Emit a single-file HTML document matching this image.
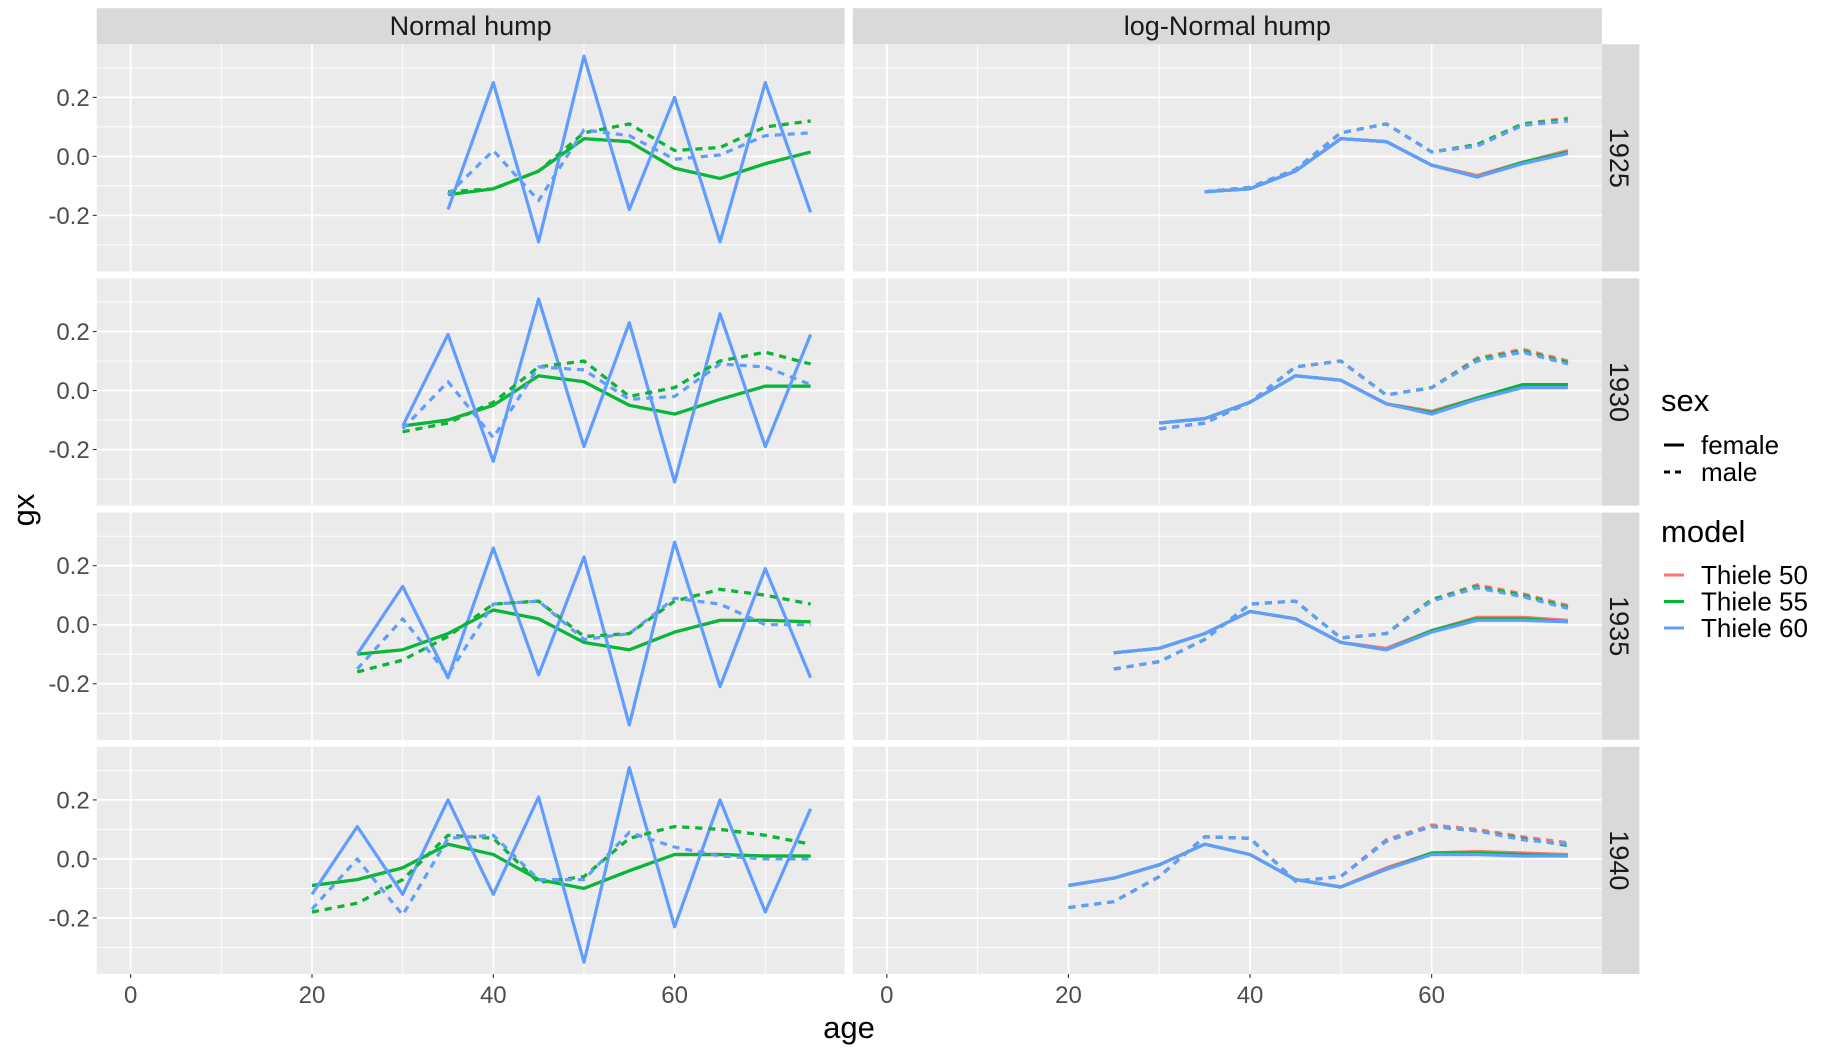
<!DOCTYPE html>
<html><head><meta charset="utf-8"><style>
body{margin:0;background:#fff;}
svg text{font-family:"Liberation Sans",sans-serif;}
</style></head><body>
<svg id="chart" width="1827" height="1051" viewBox="0 0 1827 1051" xmlns="http://www.w3.org/2000/svg"></svg>
<script>
const rowLabels = ['1925','1930','1935','1940'];
const colLabels = ['Normal hump','log-Normal hump'];
const startAges = [35,30,25,20];
const yTicks = [-0.2,0.0,0.2];
const yTickLabels = ['-0.2','0.0','0.2'];
const xTicks = [0,20,40,60];
// Normal hump
const n1925_f50 = [-0.13,-0.11,-0.05,0.06,0.05,-0.04,-0.075,-0.025,0.015];
const n1925_f55 = [-0.13,-0.11,-0.05,0.06,0.05,-0.04,-0.075,-0.025,0.015];
const n1925_f60 = [-0.18,0.25,-0.29,0.34,-0.18,0.20,-0.29,0.25,-0.19];
const n1925_m50 = [-0.12,-0.11,-0.05,0.08,0.11,0.02,0.03,0.10,0.12];
const n1925_m55 = [-0.12,-0.11,-0.05,0.08,0.11,0.02,0.03,0.10,0.12];
const n1925_m60 = [-0.13,0.02,-0.15,0.09,0.07,-0.01,0.005,0.07,0.08];
const n1930_f50 = [-0.12,-0.10,-0.05,0.05,0.03,-0.05,-0.08,-0.03,0.015,0.015];
const n1930_f55 = [-0.12,-0.10,-0.05,0.05,0.03,-0.05,-0.08,-0.03,0.015,0.015];
const n1930_f60 = [-0.12,0.19,-0.24,0.31,-0.19,0.23,-0.31,0.26,-0.19,0.19];
const n1930_m50 = [-0.14,-0.11,-0.04,0.08,0.10,-0.02,0.01,0.10,0.13,0.09];
const n1930_m55 = [-0.14,-0.11,-0.04,0.08,0.10,-0.02,0.01,0.10,0.13,0.09];
const n1930_m60 = [-0.13,0.03,-0.16,0.08,0.07,-0.03,-0.02,0.09,0.08,0.02];
const n1935_f50 = [-0.10,-0.085,-0.03,0.05,0.02,-0.06,-0.085,-0.025,0.015,0.015,0.01];
const n1935_f55 = [-0.10,-0.085,-0.03,0.05,0.02,-0.06,-0.085,-0.025,0.015,0.015,0.01];
const n1935_f60 = [-0.10,0.13,-0.18,0.26,-0.17,0.23,-0.34,0.28,-0.21,0.19,-0.18];
const n1935_m50 = [-0.16,-0.12,-0.04,0.07,0.08,-0.04,-0.03,0.08,0.12,0.10,0.07];
const n1935_m55 = [-0.16,-0.12,-0.04,0.07,0.08,-0.04,-0.03,0.08,0.12,0.10,0.07];
const n1935_m60 = [-0.15,0.02,-0.17,0.07,0.08,-0.05,-0.03,0.09,0.07,0.00,0.00];
const n1940_f50 = [-0.09,-0.07,-0.03,0.05,0.015,-0.07,-0.10,-0.04,0.015,0.015,0.01,0.01];
const n1940_f55 = [-0.09,-0.07,-0.03,0.05,0.015,-0.07,-0.10,-0.04,0.015,0.015,0.01,0.01];
const n1940_f60 = [-0.12,0.11,-0.12,0.20,-0.12,0.21,-0.35,0.31,-0.23,0.20,-0.18,0.17];
const n1940_m50 = [-0.18,-0.15,-0.07,0.08,0.07,-0.08,-0.06,0.07,0.11,0.10,0.08,0.05];
const n1940_m55 = [-0.18,-0.15,-0.07,0.08,0.07,-0.08,-0.06,0.07,0.11,0.10,0.08,0.05];
const n1940_m60 = [-0.17,0.00,-0.19,0.07,0.08,-0.07,-0.07,0.09,0.04,0.01,0.00,0.00];
// log-Normal hump
const l1925_f50 = [-0.12,-0.11,-0.05,0.06,0.05,-0.03,-0.065,-0.02,0.02];
const l1925_f55 = [-0.12,-0.11,-0.05,0.06,0.05,-0.03,-0.07,-0.02,0.015];
const l1925_f60 = [-0.12,-0.11,-0.05,0.06,0.05,-0.03,-0.07,-0.025,0.01];
const l1925_m50 = [-0.12,-0.105,-0.045,0.08,0.11,0.015,0.04,0.11,0.13];
const l1925_m55 = [-0.12,-0.105,-0.045,0.08,0.11,0.015,0.04,0.11,0.125];
const l1925_m60 = [-0.12,-0.105,-0.045,0.08,0.11,0.015,0.035,0.105,0.12];
const l1930_f50 = [-0.11,-0.095,-0.04,0.05,0.035,-0.045,-0.07,-0.025,0.02,0.02];
const l1930_f55 = [-0.11,-0.095,-0.04,0.05,0.035,-0.045,-0.075,-0.025,0.02,0.02];
const l1930_f60 = [-0.11,-0.095,-0.04,0.05,0.035,-0.045,-0.08,-0.03,0.01,0.01];
const l1930_m50 = [-0.13,-0.11,-0.04,0.08,0.10,-0.015,0.01,0.11,0.14,0.10];
const l1930_m55 = [-0.13,-0.11,-0.04,0.08,0.10,-0.015,0.01,0.105,0.135,0.095];
const l1930_m60 = [-0.13,-0.11,-0.04,0.08,0.10,-0.015,0.01,0.10,0.13,0.09];
const l1935_f50 = [-0.095,-0.08,-0.03,0.045,0.02,-0.06,-0.08,-0.02,0.025,0.025,0.015];
const l1935_f55 = [-0.095,-0.08,-0.03,0.045,0.02,-0.06,-0.085,-0.02,0.02,0.02,0.01];
const l1935_f60 = [-0.095,-0.08,-0.03,0.045,0.02,-0.06,-0.085,-0.025,0.015,0.015,0.01];
const l1935_m50 = [-0.15,-0.125,-0.05,0.07,0.08,-0.045,-0.03,0.085,0.135,0.105,0.065];
const l1935_m55 = [-0.15,-0.125,-0.05,0.07,0.08,-0.045,-0.03,0.085,0.13,0.10,0.06];
const l1935_m60 = [-0.15,-0.125,-0.05,0.07,0.08,-0.045,-0.03,0.08,0.125,0.095,0.055];
const l1940_f50 = [-0.09,-0.065,-0.02,0.05,0.015,-0.07,-0.095,-0.03,0.02,0.025,0.02,0.015];
const l1940_f55 = [-0.09,-0.065,-0.02,0.05,0.015,-0.07,-0.095,-0.035,0.02,0.02,0.015,0.01];
const l1940_f60 = [-0.09,-0.065,-0.02,0.05,0.015,-0.07,-0.095,-0.035,0.015,0.015,0.01,0.01];
const l1940_m50 = [-0.165,-0.145,-0.06,0.075,0.07,-0.075,-0.06,0.065,0.115,0.10,0.075,0.055];
const l1940_m55 = [-0.165,-0.145,-0.06,0.075,0.07,-0.075,-0.06,0.06,0.11,0.095,0.07,0.045];
const l1940_m60 = [-0.165,-0.145,-0.06,0.075,0.07,-0.075,-0.06,0.06,0.11,0.095,0.065,0.05];

const seriesByPanel = [
 [[n1925_f50,n1925_f55,n1925_f60,n1925_m50,n1925_m55,n1925_m60],[l1925_f50,l1925_f55,l1925_f60,l1925_m50,l1925_m55,l1925_m60]],
 [[n1930_f50,n1930_f55,n1930_f60,n1930_m50,n1930_m55,n1930_m60],[l1930_f50,l1930_f55,l1930_f60,l1930_m50,l1930_m55,l1930_m60]],
 [[n1935_f50,n1935_f55,n1935_f60,n1935_m50,n1935_m55,n1935_m60],[l1935_f50,l1935_f55,l1935_f60,l1935_m50,l1935_m55,l1935_m60]],
 [[n1940_f50,n1940_f55,n1940_f60,n1940_m50,n1940_m55,n1940_m60],[l1940_f50,l1940_f55,l1940_f60,l1940_m50,l1940_m55,l1940_m60]]
];
const seriesNames = ['female-thiele-50','female-thiele-55','female-thiele-60','male-thiele-50','male-thiele-55','male-thiele-60'];
const colors = ['#F8766D','#00BA38','#619CFF'];

const NS='http://www.w3.org/2000/svg';
const svg=document.getElementById('chart');
function mk(tag,attrs,parent){const e=document.createElementNS(NS,tag);for(const k in attrs)e.setAttribute(k,attrs[k]);(parent||svg).appendChild(e);return e;}

const colX=[[96.7,844.6],[852.8,1601.9]];
const rowY=[[44.3,271.4],[278.4,505.6],[512.6,739.8],[746.8,974]];
const xMin=-3.75,xMax=78.75,yMin=-0.39,yMax=0.38;
function xs(c,v){const [a,b]=colX[c];return a+(v-xMin)/(xMax-xMin)*(b-a);}
function ys(r,v){const [t,b]=rowY[r];return b-(v-yMin)/(yMax-yMin)*(b-t);}

for(let c=0;c<2;c++){
  const g=mk('g',{});
  
  
  mk('rect',{x:colX[c][0],y:8.2,width:colX[c][1]-colX[c][0],height:36.1,fill:'#d9d9d9'},g);
  const t=mk('text',{x:(colX[c][0]+colX[c][1])/2,y:35,'text-anchor':'middle','font-size':27,fill:'#1a1a1a'},g);
  t.textContent=colLabels[c];
}
for(let r=0;r<4;r++){
  const g=mk('g',{});
  
  
  mk('rect',{x:1601.9,y:rowY[r][0],width:37.5,height:rowY[r][1]-rowY[r][0],fill:'#d9d9d9'},g);
  const cy=(rowY[r][0]+rowY[r][1])/2;
  const t=mk('text',{x:1610,y:cy,transform:`rotate(90 1610 ${cy})`,'text-anchor':'middle','font-size':27,fill:'#1a1a1a'},g);
  t.textContent=rowLabels[r];
}

for(let r=0;r<4;r++){
  for(let c=0;c<2;c++){
    const g=mk('g',{});
    
    
    const [x0,x1]=colX[c],[y0,y1]=rowY[r];
    mk('rect',{x:x0,y:y0,width:x1-x0,height:y1-y0,fill:'#ebebeb'},g);
    [-0.3,-0.1,0.1,0.3].forEach(v=>mk('line',{x1:x0,x2:x1,y1:ys(r,v),y2:ys(r,v),stroke:'#fff','stroke-width':0.9},g));
    [10,30,50,70].forEach(v=>mk('line',{x1:xs(c,v),x2:xs(c,v),y1:y0,y2:y1,stroke:'#fff','stroke-width':0.9},g));
    yTicks.forEach(v=>mk('line',{x1:x0,x2:x1,y1:ys(r,v),y2:ys(r,v),stroke:'#fff','stroke-width':1.8},g));
    xTicks.forEach(v=>mk('line',{x1:xs(c,v),x2:xs(c,v),y1:y0,y2:y1,stroke:'#fff','stroke-width':1.8},g));
    const ser=seriesByPanel[r][c];
    for(let s=0;s<6;s++){
      const vals=ser[s];
      const pts=vals.map((v,i)=>xs(c,startAges[r]+5*i).toFixed(1)+','+ys(r,v).toFixed(1)).join(' ');
      const p=mk('polyline',{points:pts,fill:'none',stroke:colors[s%3],'stroke-width':3.2,'stroke-linejoin':'round'},g);
      if(s>=3)p.setAttribute('stroke-dasharray','7,6');
      
      
    }
    if(c===0){
      yTicks.forEach((v,i)=>{
        mk('line',{x1:x0-4,x2:x0,y1:ys(r,v),y2:ys(r,v),stroke:'#333','stroke-width':1.1});
        const t=mk('text',{x:x0-7,y:ys(r,v)+8.5,'text-anchor':'end','font-size':24,fill:'#4d4d4d'});
        t.textContent=yTickLabels[i];
      });
    }
    if(r===3){
      xTicks.forEach(v=>{
        mk('line',{x1:xs(c,v),x2:xs(c,v),y1:y1,y2:y1+4,stroke:'#333','stroke-width':1.1});
        const t=mk('text',{x:xs(c,v),y:1003,'text-anchor':'middle','font-size':24,fill:'#4d4d4d'});
        t.textContent=v;
      });
    }
  }
}
const xt=mk('text',{x:849,y:1038,'text-anchor':'middle','font-size':31,fill:'#000'});
xt.textContent='age';


const yt=mk('text',{x:34,y:510,'text-anchor':'middle','font-size':31,fill:'#000',transform:'rotate(-90 34 510)'});
yt.textContent='gx';



const lg=mk('g',{});


const st=mk('text',{x:1661,y:411,'font-size':31,fill:'#000'},lg);st.textContent='sex';
const sexLab=['female','male'];
sexLab.forEach((l,i)=>{
  const y=445+i*27;
  const ln=mk('line',{x1:1664,x2:1684,y1:y,y2:y,stroke:'#000','stroke-width':3},lg);
  if(i===1)ln.setAttribute('stroke-dasharray','6,5');
  const t=mk('text',{x:1701,y:y+9,'font-size':26,fill:'#000'},lg);t.textContent=l;
  
  
});
const mt=mk('text',{x:1661,y:542,'font-size':31,fill:'#000'},lg);mt.textContent='model';
['Thiele 50','Thiele 55','Thiele 60'].forEach((l,i)=>{
  const y=575+i*26.5;
  mk('line',{x1:1664,x2:1684,y1:y,y2:y,stroke:colors[i],'stroke-width':3},lg);
  const t=mk('text',{x:1701,y:y+9,'font-size':26,fill:'#000'},lg);t.textContent=l;
  
  
});
</script>
</body></html>
